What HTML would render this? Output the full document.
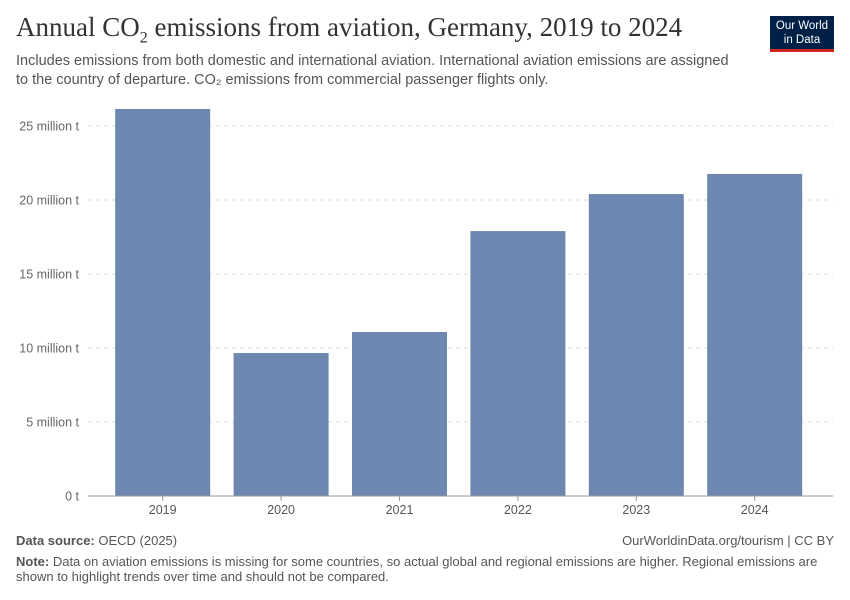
<!DOCTYPE html>
<html><head><meta charset="utf-8">
<style>
body{margin:0;width:850px;height:600px;background:#fff;font-family:"Liberation Sans",sans-serif;position:relative;overflow:hidden}
.t{position:absolute;white-space:nowrap}
</style></head><body>
<div class="t" style="left:16px;top:12px;font-family:'Liberation Serif',serif;font-size:27px;color:#333">Annual CO<sub style="font-size:16px">2</sub> emissions from aviation, Germany, 2019 to 2024</div>
<div class="t" style="left:16px;top:52px;font-size:14.5px;color:#555;line-height:19px">Includes emissions from both domestic and international aviation. International aviation emissions are assigned<br>to the country of departure. CO₂ emissions from commercial passenger flights only.</div>
<div style="position:absolute;left:770px;top:16px;width:64px;height:36px;background:#002147;border-bottom:3px solid #ce261e;color:#fff;font-size:11.5px;text-align:center;line-height:14px;padding-top:3px;box-sizing:border-box">Our World<br>in Data</div>
<svg id="chart" width="850" height="600" style="position:absolute;left:0;top:0"></svg>
<div class="t" style="left:16px;top:533px;font-size:13px;color:#555"><b>Data source:</b> OECD (2025)</div>
<div class="t" style="right:16px;top:533px;font-size:13px;color:#555">OurWorldinData.org/tourism | CC BY</div>
<div class="t" style="left:16px;top:554px;font-size:13px;color:#555;line-height:15px"><b>Note:</b> Data on aviation emissions is missing for some countries, so actual global and regional emissions are higher. Regional emissions are<br>shown to highlight trends over time and should not be compared.</div>
<script>
const years=["2019","2020","2021","2022","2023","2024"];
const values=[26.15,9.66,11.08,17.9,20.4,21.76];
const ticks=[0,5,10,15,20,25];
const tickLabels=["0 t","5 million t","10 million t","15 million t","20 million t","25 million t"];
const svg=document.getElementById('chart');const NS='http://www.w3.org/2000/svg';
const y=v=>496-v*14.8;const x0=103.5,step=118.4,bw=95;
const bx=i=>x0+i*step+(step-bw)/2;
function mk(t,a){const e=document.createElementNS(NS,t);for(const k in a)e.setAttribute(k,a[k]);svg.appendChild(e);return e;}
ticks.forEach((t,i)=>{
 if(t>0){const g=mk('line',{x1:88,x2:833,y1:y(t),y2:y(t),stroke:'#ddd','stroke-dasharray':'4,4'});
 
 }
 const l=mk('text',{x:79,y:y(t)+4.5,'text-anchor':'end','font-size':12.5,fill:'#666','font-family':'Liberation Sans'});
 l.textContent=tickLabels[i];
 
 
});
values.forEach((v,i)=>{
 const r=mk('rect',{x:bx(i),y:y(v),width:bw,height:496-y(v),fill:'#6d87b0'});
 
 
 const t=mk('text',{x:bx(i)+bw/2,y:514,'text-anchor':'middle','font-size':12.5,fill:'#555','font-family':'Liberation Sans'});
 t.textContent=years[i];
 
 
 const tk=mk('line',{x1:bx(i)+bw/2,x2:bx(i)+bw/2,y1:496,y2:501,stroke:'#999'});
 
 
});
const ax=mk('line',{x1:88,x2:833,y1:496,y2:496,stroke:'#999'});


</script>
</body></html>
